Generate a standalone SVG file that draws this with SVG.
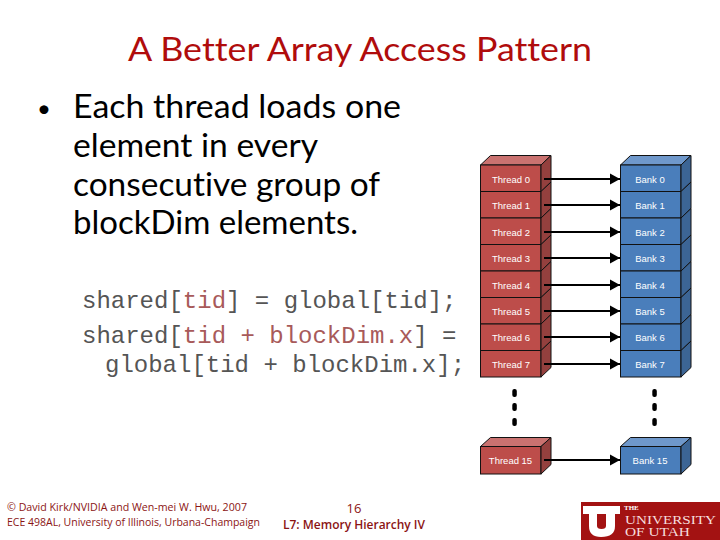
<svg xmlns="http://www.w3.org/2000/svg" width="720" height="540" viewBox="0 0 720 540">
<style>
text{font-family:"Liberation Sans",Arial,sans-serif}
.title{font-family:"Lato","Open Sans",sans-serif;font-size:32px;fill:#b00c0c;font-variant-ligatures:none}
.body{font-family:"Lato","Open Sans",sans-serif;font-size:33px;fill:#000;font-variant-ligatures:none}
.code{font-family:"Liberation Mono",monospace;font-size:24px;fill:#555}
.hl{fill:#a85a5a}
.lbl{font-size:9.500px;fill:#fff;text-anchor:middle}
.foot{font-family:"Open Sans","Noto Sans",sans-serif;fill:#8b1414;font-size:10.500px}
.tf{fill:#bd4d4a;stroke:#111;stroke-width:1}
.tt{fill:#ca7270;stroke:#111;stroke-width:1}
.ts{fill:#94403e;stroke:#111;stroke-width:1}
.bf{fill:#4a7ebb;stroke:#111;stroke-width:1}
.bt{fill:#6f98cb;stroke:#111;stroke-width:1}
.bs{fill:#3c6595;stroke:#111;stroke-width:1}
.arr{stroke:#000;stroke-width:2;fill:none;marker-end:url(#ah)}
.logo{font-family:"Liberation Serif",serif;font-size:11.500px;fill:#f6dede}
</style>
<defs>
<marker id="ah" markerUnits="userSpaceOnUse" markerWidth="11" markerHeight="12" refX="10" refY="6" orient="auto"><path d="M0 0.500L10 6L0 11.500Z" fill="#000"/></marker>
<g id="trow"><rect class="tf" x="0" y="0" width="60.500" height="26.500"/><path class="ts" d="M60.500 0L70.500-9.500V17L60.500 26.500Z"/></g>
<g id="brow"><rect class="bf" x="0" y="0" width="60.500" height="26.500"/><path class="bs" d="M60.500 0L70.500-9.500V17L60.500 26.500Z"/></g>
</defs>
<rect width="720" height="540" fill="#fff"/>
<text class="title" x="128" y="61" textLength="464" lengthAdjust="spacingAndGlyphs">A Better Array Access Pattern</text>
<text class="body" x="37" y="117" style="font-size:24px">•</text>
<text class="body" x="73" y="118" textLength="328" lengthAdjust="spacingAndGlyphs">Each thread loads one</text>
<text class="body" x="73" y="157" textLength="245" lengthAdjust="spacingAndGlyphs">element in every</text>
<text class="body" x="73" y="196" textLength="307" lengthAdjust="spacingAndGlyphs">consecutive group of</text>
<text class="body" x="73" y="234" textLength="285" lengthAdjust="spacingAndGlyphs">blockDim elements.</text>
<text class="code" x="82" y="308">shared[<tspan class="hl">tid</tspan>] = global[tid];</text>
<text class="code" x="82" y="343">shared[<tspan class="hl">tid + blockDim.x</tspan>] =</text>
<text class="code" x="105" y="372">global[tid + blockDim.x];</text>
<g id="thread-stack">
<path class="tt" d="M480.500 165L490.500 155.500H551L541 165Z"/>
<use href="#trow" x="480.500" y="165"/><use href="#trow" x="480.500" y="191.500"/><use href="#trow" x="480.500" y="218"/><use href="#trow" x="480.500" y="244.500"/><use href="#trow" x="480.500" y="271"/><use href="#trow" x="480.500" y="297.500"/><use href="#trow" x="480.500" y="324"/><use href="#trow" x="480.500" y="350.500"/>
<text class="lbl" x="511" y="183">Thread 0</text><text class="lbl" x="511" y="209">Thread 1</text><text class="lbl" x="511" y="236">Thread 2</text><text class="lbl" x="511" y="262">Thread 3</text><text class="lbl" x="511" y="289">Thread 4</text><text class="lbl" x="511" y="315">Thread 5</text><text class="lbl" x="511" y="341">Thread 6</text><text class="lbl" x="511" y="368">Thread 7</text>
</g>
<g id="bank-stack">
<path class="bt" d="M620.500 165L630.500 155.500H691L681 165Z"/>
<use href="#brow" x="620.500" y="165"/><use href="#brow" x="620.500" y="191.500"/><use href="#brow" x="620.500" y="218"/><use href="#brow" x="620.500" y="244.500"/><use href="#brow" x="620.500" y="271"/><use href="#brow" x="620.500" y="297.500"/><use href="#brow" x="620.500" y="324"/><use href="#brow" x="620.500" y="350.500"/>
<text class="lbl" x="650" y="183">Bank 0</text><text class="lbl" x="650" y="209">Bank 1</text><text class="lbl" x="650" y="236">Bank 2</text><text class="lbl" x="650" y="262">Bank 3</text><text class="lbl" x="650" y="289">Bank 4</text><text class="lbl" x="650" y="315">Bank 5</text><text class="lbl" x="650" y="341">Bank 6</text><text class="lbl" x="650" y="368">Bank 7</text>
</g>
<g id="thread-15">
<path class="tt" d="M480.500 446.500L490.500 437.500H551L541 446.500Z"/><rect class="tf" x="480.500" y="446.500" width="60.500" height="27.500"/><path class="ts" d="M541 446.500L551 437.500V464.500L541 474Z"/>
<text class="lbl" x="510.500" y="464">Thread 15</text>
</g>
<g id="bank-15">
<path class="bt" d="M620.500 446.500L630.500 437.500H691L681 446.500Z"/><rect class="bf" x="620.500" y="446.500" width="60.500" height="27.500"/><path class="bs" d="M681 446.500L691 437.500V464.500L681 474Z"/>
<text class="lbl" x="650" y="464">Bank 15</text>
</g>
<g id="connectors">
<path class="arr" d="M544 179H620"/><path class="arr" d="M544 205H620"/><path class="arr" d="M544 232H620"/><path class="arr" d="M544 258H620"/><path class="arr" d="M544 285H620"/><path class="arr" d="M544 311H620"/><path class="arr" d="M544 337H620"/><path class="arr" d="M544 364H620"/><path class="arr" d="M544 460H620"/>
</g>
<g id="dots" fill="#000">
<rect x="512.300" y="389" width="4.500" height="8" rx="2"/><rect x="512.300" y="403" width="4.500" height="8" rx="2"/><rect x="512.300" y="418" width="4.500" height="8" rx="2"/>
<rect x="652.300" y="389" width="4.500" height="8" rx="2"/><rect x="652.300" y="403" width="4.500" height="8" rx="2"/><rect x="652.300" y="418" width="4.500" height="8" rx="2"/>
</g>
<text class="foot" x="7" y="511" textLength="240" lengthAdjust="spacingAndGlyphs">© David Kirk/NVIDIA and Wen-mei W. Hwu, 2007</text>
<text class="foot" x="7" y="526" textLength="253" lengthAdjust="spacingAndGlyphs">ECE 498AL, University of Illinois, Urbana-Champaign</text>
<text class="foot" x="354" y="513" text-anchor="middle" style="font-size:13px">16</text>
<text class="foot" x="283" y="529" textLength="142" lengthAdjust="spacingAndGlyphs" style="font-size:12px;font-weight:600">L7: Memory Hierarchy IV</text>
<g id="utah-logo">
<rect x="581" y="502" width="139" height="38" fill="#a31212"/>
<path d="M583 506H620V514H615V526Q615 537 601 537Q589 537 589 526V514H583Z" fill="#fff"/>
<path d="M597 514H606V526Q606 529 601.500 529Q597 529 597 526Z" fill="#a31212"/>
<text x="624" y="510" style="font-family:'Liberation Serif',serif;font-size:7px;font-weight:700;fill:#fff">THE</text>
<text class="logo" x="625" y="524" textLength="91" lengthAdjust="spacingAndGlyphs">UNIVERSITY</text>
<text class="logo" x="625" y="536" textLength="65" lengthAdjust="spacingAndGlyphs">OF UTAH</text>
</g>
</svg>
